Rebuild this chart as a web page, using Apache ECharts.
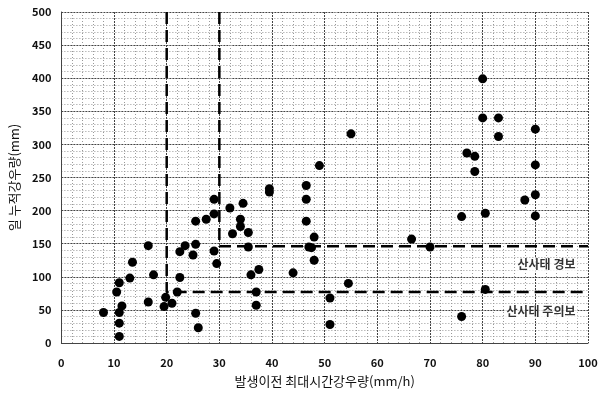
<!DOCTYPE html>
<html>
<head>
<meta charset="utf-8">
<script src="https://cdn.jsdelivr.net/npm/echarts@6/dist/echarts.min.js"></script>
<style>
  html, body { margin: 0; padding: 0; background: #fff; }
  #chart { width: 603px; height: 394px; }
</style>
</head>
<body>
<div id="chart"></div>
<script>
// Maximum hourly rainfall before each event (mm/h)
const maxHourly = [
  8, 11, 11, 11, 11.5, 10.5, 11, 13, 13.5, 16.5,
  17.5, 16.5, 19.5, 19.8, 21, 22, 22.5, 22.5, 23.5, 25,
  25.5, 25.5, 25.5, 26, 27.5, 29, 29, 29, 29.5, 32,
  34.5, 34, 34, 32.5, 35.5, 35.5, 36, 37.5, 37, 37,
  39.5, 39.5, 44, 46.5, 46.5, 46.5, 48, 47, 47.5, 48,
  49, 51, 51, 55, 54.5, 66.5, 70, 76, 76, 77,
  78.5, 78.5, 80, 80, 80.5, 80.5, 83, 83, 88, 90,
  90, 90, 90
];
// Daily cumulative rainfall for the same events (mm)
const dailyCumulative = [
  46, 10, 30, 46, 56, 77, 91, 98, 122, 147,
  103, 62, 55, 69, 60, 77, 99, 138, 147, 133,
  149, 184, 45, 23, 187, 195, 217, 139, 120, 204,
  211, 187, 176, 165, 167, 145, 103, 111, 77, 57,
  233, 228, 106, 238, 217, 184, 160, 145, 144, 125,
  268, 68, 28, 316, 90, 157, 145, 191, 40, 287,
  282, 259, 399, 340, 196, 81, 340, 312, 216, 323,
  269, 224, 192
];

// Threshold criteria: [hourly intensity, daily cumulative]
const watchLevel = { hourly: 20, daily: 77 };    // 산사태 주의보
const warningLevel = { hourly: 30, daily: 146 }; // 산사태 경보
const xMax = 100, yMax = 500;

const watchLabel = '산사태 주의보';
const warningLabel = '산사태 경보';

const points = maxHourly.map((x, i) => [x, dailyCumulative[i]]);

const dashStyle = { color: '#000', width: 2.5, type: [12, 6] };
function thresholdLine(level) {
  return {
    type: 'line',
    data: [[level.hourly, yMax], [level.hourly, level.daily], [xMax, level.daily]],
    symbol: 'none',
    lineStyle: dashStyle,
    silent: true,
    z: 3
  };
}

const fontKR = '"Noto Sans CJK KR", "Noto Sans", sans-serif';

const chart = echarts.init(document.getElementById('chart'));
chart.setOption({
  animation: false,
  backgroundColor: '#fff',
  grid: { left: 58, right: 15, top: 12, bottom: 51 },
  xAxis: {
    type: 'value', min: 0, max: xMax, interval: 10,
    name: '발생이전 최대시간강우량(mm/h)',
    nameLocation: 'middle', nameGap: 32,
    nameTextStyle: { fontFamily: fontKR, fontSize: 13, color: '#111' },
    axisLine: { show: true, lineStyle: { color: '#444', width: 1 } },
    axisTick: { show: false },
    axisLabel: { margin: 14, fontFamily: fontKR, fontSize: 11, fontWeight: 'bold', color: '#111' },
    splitLine: { show: true, lineStyle: { color: '#444', type: [2, 1], width: 1 } },
    minorTick: { show: false, splitNumber: 5 },
    minorSplitLine: { show: true, lineStyle: { color: '#999', type: [1, 2], width: 1 } }
  },
  yAxis: {
    type: 'value', min: 0, max: yMax, interval: 50,
    name: '일 누적강우량(mm)',
    nameLocation: 'middle', nameGap: 35, nameRotate: 90,
    nameTextStyle: { fontFamily: fontKR, fontSize: 13, color: '#111' },
    axisLine: { show: true, lineStyle: { color: '#444', width: 1 } },
    axisTick: { show: false },
    axisLabel: { margin: 10, fontFamily: fontKR, fontSize: 11, fontWeight: 'bold', color: '#111' },
    splitLine: { show: true, lineStyle: { color: '#444', type: [2, 1], width: 1 } },
    minorTick: { show: false, splitNumber: 5 },
    minorSplitLine: { show: true, lineStyle: { color: '#999', type: [1, 2], width: 1 } }
  },
  series: [
    thresholdLine(watchLevel),
    thresholdLine(warningLevel),
    {
      type: 'scatter',
      data: points,
      symbol: 'circle',
      symbolSize: 9,
      itemStyle: { color: '#000', opacity: 1 },
      z: 5
    },
    {
      type: 'scatter',
      symbolSize: 0,
      silent: true,
      data: [
        { value: [98, warningLevel.daily - 28], name: warningLabel },
        { value: [98, watchLevel.daily - 30], name: watchLabel }
      ],
      label: {
        show: true, position: 'inside', align: 'right',
        formatter: p => p.name,
        fontFamily: fontKR, fontSize: 12, fontWeight: 'bold', color: '#000',
        backgroundColor: '#fff', padding: [1, 2]
      },
      z: 6
    }
  ]
});
</script>
</body>
</html>
